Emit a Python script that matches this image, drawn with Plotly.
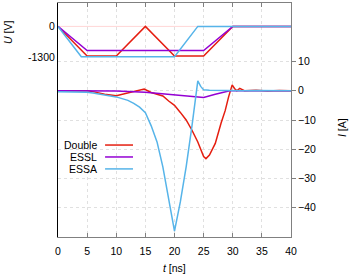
import plotly.graph_objects as go

# ---- data ----
series_names = ["Double", "ESSL", "ESSA"]
series_colors = ["#e51e10", "#9400d3", "#56b4e9"]

# voltage waveforms (left axis, V)
t_u_double = [0, 5, 10, 15, 20, 25, 30, 40]
u_double = [0, -1270, -1270, 0, -1270, -1270, 0, 0]
t_u_essl = [0, 5, 25, 30, 40]
u_essl = [0, -1030, -1030, 0, 0]
t_u_essa = [0, 4, 20, 24, 40]
u_essa = [0, -1300, -1300, 0, 0]

# current waveforms (right axis, A)
t_i_double = [0, 5, 6, 8, 10, 12, 14, 14.8, 16, 18, 19, 20, 21, 22, 23, 24, 25, 25.4,
              26, 27, 28, 28.7, 29.3, 29.9, 30.3, 30.7, 31.2, 32, 34, 36, 38, 40]
i_double = [0, 0, -0.3, -1.2, -1.7, -0.8, 0.3, 0.6, -0.6, -1.8, -3.5, -5, -7.4, -10, -13.5,
            -17.5, -22.5, -23.2, -22, -18, -11, -6.8, -2, 2.0, 0.8, 0, 0.8, 0, 0.2, -0.1, 0.1, 0]
t_i_essl = [0, 5, 10, 15, 18, 20, 22, 25, 27, 29.5, 32, 40]
i_essl = [0, 0, -0.1, -0.5, -1.0, -1.4, -1.9, -2.3, -1.2, 0, 0, 0]
t_i_essa = [0, 2, 4, 5, 6, 8, 10, 12, 13, 14, 15, 16, 17, 18, 19, 20, 21, 22, 23, 23.5,
            24, 24.5, 25, 26, 28, 30, 32, 34, 36, 38, 40]
i_essa = [-0.3, -0.3, -0.4, -0.5, -0.8, -1.4, -2.1, -3.3, -4.3, -5.6, -7.5, -12, -17.5, -26,
          -37, -48, -38, -26, -12, -4, 3.4, 1.5, 0.3, 0.2, 0.1, 0.2, 0, 0.1, 0, 0.1, 0]

x_ticks = [0, 5, 10, 15, 20, 25, 30, 35, 40]
u_ticks = [0, -1300]
i_ticks = [10, 0, -10, -20, -30, -40]

FONT = "Liberation Sans, Arial, Helvetica, sans-serif"

fig = go.Figure()

volt = [(t_u_double, u_double), (t_u_essl, u_essl), (t_u_essa, u_essa)]
curr = [(t_i_double, i_double), (t_i_essl, i_essl), (t_i_essa, i_essa)]

for (tx, ty), name, col in zip(curr, series_names, series_colors):
    fig.add_trace(go.Scatter(x=tx, y=ty, mode="lines", name=name, yaxis="y2",
                             line=dict(color=col, width=1.5), showlegend=False))
for (tx, ty), name, col in zip(volt, series_names, series_colors):
    fig.add_trace(go.Scatter(x=tx, y=ty, mode="lines", name=name, yaxis="y",
                             line=dict(color=col, width=1.5), showlegend=False))

# faint zero-voltage reference line
fig.add_hline(y=0, line=dict(color="#ffd6d6", width=1), layer="below")

fig.update_layout(
    width=349, height=277,
    margin=dict(l=58, r=58, t=3, b=40),
    paper_bgcolor="white", plot_bgcolor="white",
    font=dict(family=FONT, size=10.5, color="black"),
    showlegend=False,
    xaxis=dict(range=[0, 40], tickvals=x_ticks, showline=True, linecolor="#808080",
               linewidth=1, mirror="ticks", ticks="inside", ticklen=4, tickcolor="#808080",
               showgrid=True, gridcolor="#e0e0e0", griddash="dot", gridwidth=1,
               zeroline=False, tickfont=dict(size=10.5), ticklabelstandoff=4),
    yaxis=dict(range=[-9000, 1000], tickvals=u_ticks, ticktext=[str(v) for v in u_ticks],
               showline=True, linecolor="black", linewidth=1, ticks="",
               showgrid=False, zeroline=False, tickfont=dict(size=10.5)),
    yaxis2=dict(range=[-50, 30], tickvals=i_ticks, overlaying="y", side="right",
                showline=True, linecolor="#808080", linewidth=1, ticks="outside",
                ticklen=4, tickcolor="#808080", showgrid=True, gridcolor="#e0e0e0",
                griddash="dot", gridwidth=1, zeroline=False, tickfont=dict(size=10.5)),
)

# axis titles
fig.add_annotation(text="<i>U</i> [V]", xref="paper", yref="paper", x=-0.2146, y=0.876,
                   xanchor="center", yanchor="middle",
                   textangle=-90, showarrow=False, font=dict(size=10.5))
fig.add_annotation(text="<i>I</i> [A]", xref="paper", yref="paper", x=1.219, y=0.466,
                   xanchor="center", yanchor="middle",
                   textangle=-90, showarrow=False, font=dict(size=10.5))
fig.add_annotation(text="<i>t</i> [ns]", xref="paper", yref="paper", x=0.498, y=-0.132,
                   xanchor="center", yanchor="middle",
                   showarrow=False, font=dict(size=10.5))

# custom legend (text right-aligned, sample to the right)
leg_y = [0.393, 0.342, 0.291]
for name, col, yy in zip(series_names, series_colors, leg_y):
    fig.add_annotation(text=name, xref="paper", yref="paper", x=0.176, y=yy,
                       xanchor="right", yanchor="middle", showarrow=False,
                       font=dict(size=10.5))
    fig.add_shape(type="line", xref="paper", yref="paper", x0=0.202, x1=0.322,
                  y0=yy, y1=yy, line=dict(color=col, width=1.5))

fig.write_html("out.html", config={"displayModeBar": False},
               post_script="document.body.style.margin='0px';")
